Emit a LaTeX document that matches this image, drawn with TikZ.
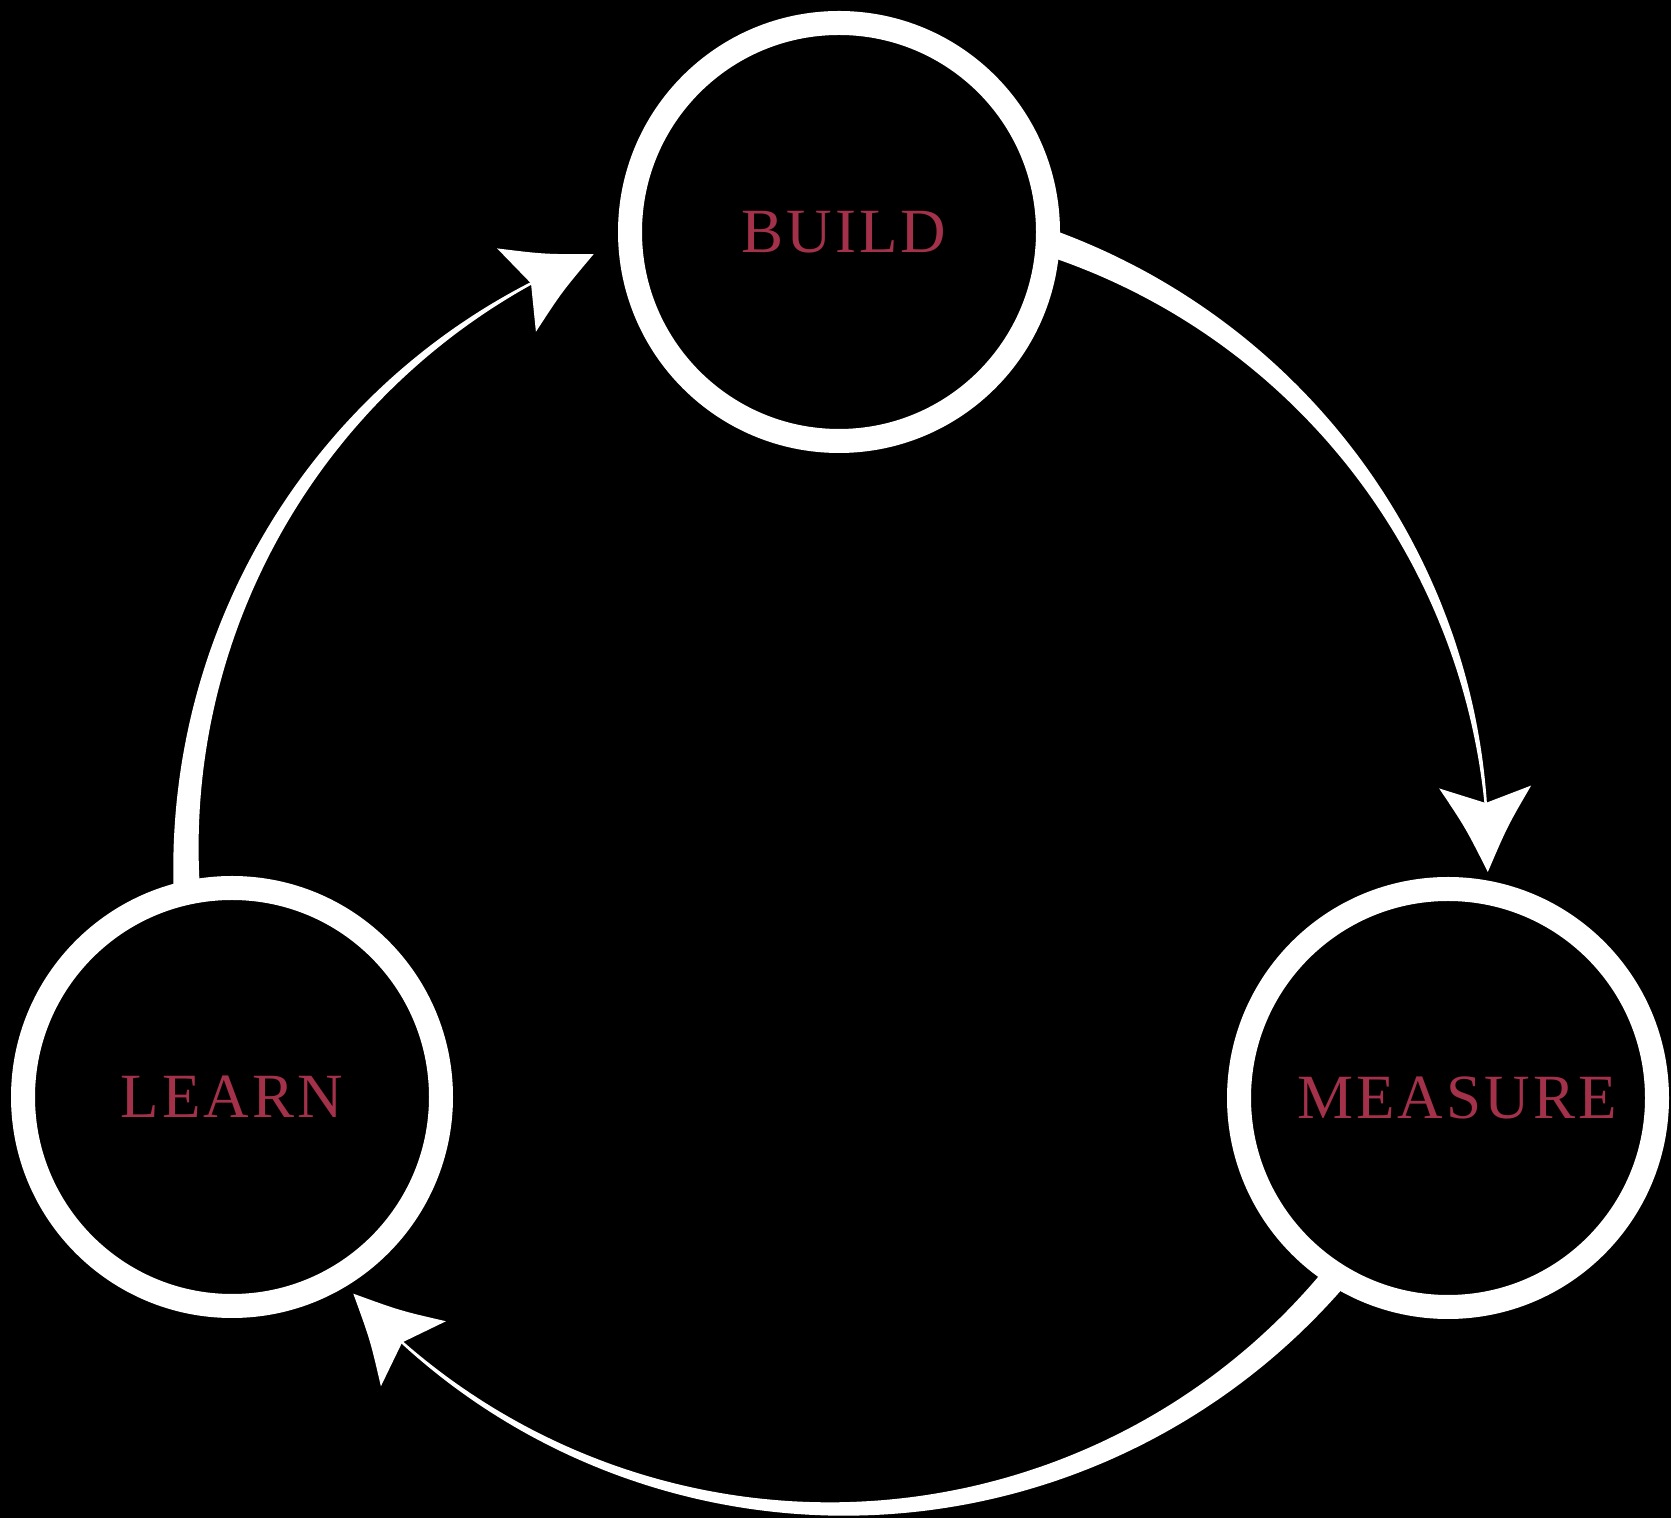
\documentclass[tikz,border=0pt]{standalone}
\usepackage{fontspec}
\setmainfont{Liberation Serif}
\newfontfamily\labelfont[LetterSpace=5]{Liberation Serif}
\definecolor{crimson}{RGB}{163,49,74}
\begin{document}
\begin{tikzpicture}[x=1pt,y=1pt,
  declare function={tw(\t,\a,\b)=2.5+23.5*(\t-\b)/(\a-\b);},
  stage/.style={circle, draw=white, line width=24pt, fill=black,
    minimum size=418pt, inner sep=0pt,
    font=\labelfont\fontsize{63}{70}\selectfont, text=crimson},
  headshape/.style={fill=white}]
\fill[black] (0,0) rectangle (1671,1518);
\useasboundingbox (0,0) rectangle (1671,1518);
\coordinate (C) at (837,660);
% tapered arcs (drawn first, then covered by the stage circles)
\begin{scope}[shift={(837,660)}]
  \fill[white] plot[domain=73:3.6, samples=90] (\x:{651+tw(\x,69.9,4.85)/2})
     -- plot[domain=3.6:73, samples=90] (\x:{651-tw(\x,69.9,4.85)/2}) -- cycle;
  \fill[white] plot[domain=-38:-133.3, samples=120] (\x:{651+tw(\x,-41.05,-132.08)/2})
     -- plot[domain=-133.3:-38, samples=120] (\x:{651-tw(\x,-41.05,-132.08)/2}) -- cycle;
  \fill[white] plot[domain=185:116.8, samples=90] (\x:{651+tw(\x,181.9,117.95)/2})
     -- plot[domain=116.8:185, samples=90] (\x:{651-tw(\x,181.9,117.95)/2}) -- cycle;
\end{scope}
% stages
\node[stage] (build) at (839,1286) {\hspace*{10pt}BUILD};
\node[stage] (measure) at (1448,420) {\hspace*{18pt}MEASURE};
\node[stage] (learn) at (232,421) {LEARN};
% arrow tips
\path (C) ++(-1.23:651) coordinate (tipM);
\path (C) ++(-137.99:651) coordinate (tipL);
\path (C) ++(111.96:651) coordinate (tipB);
\fill[headshape, shift={(tipM)}, rotate=-88.2] (0,0) .. controls (-45,21) .. (-85,46) -- (-69,0) -- (-85,-46) .. controls (-45,-21) .. (0,0) -- cycle;
\fill[headshape, shift={(tipL)}, rotate=135] (0,0) .. controls (-45,21) .. (-85,46) -- (-69,0) -- (-85,-46) .. controls (-45,-21) .. (0,0) -- cycle;
\fill[headshape, shift={(tipB)}, rotate=24.96] (0,0) .. controls (-45,21) .. (-85,46) -- (-69,0) -- (-85,-46) .. controls (-45,-21) .. (0,0) -- cycle;
\end{tikzpicture}
\end{document}
